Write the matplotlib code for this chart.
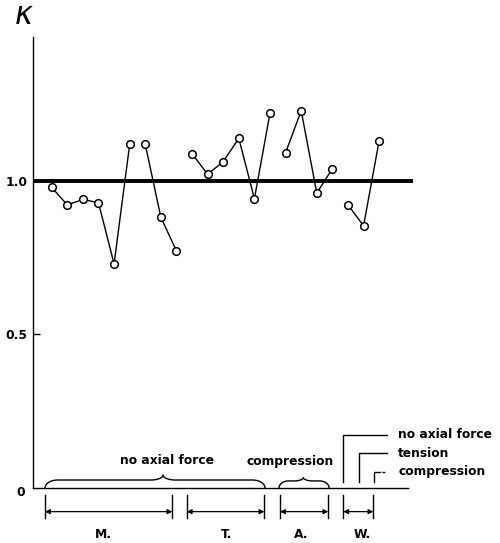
import numpy as np
import matplotlib
matplotlib.use("Agg")
import matplotlib.pyplot as plt

# =========================================================
# Data (kappa ratio per specimen)
# =========================================================

# each run is one connected polyline of specimens
runs_x = [
    [0, 1, 2, 3, 4, 5],
    [6, 7, 8],
    [9, 10, 11, 12, 13, 14],
    [15, 16, 17, 18],
    [19, 20, 21],
]
runs_k = [
    [0.979, 0.922, 0.940, 0.929, 0.730, 1.119],
    [1.119, 0.882, 0.772],
    [1.089, 1.022, 1.063, 1.139, 0.942, 1.221],
    [1.092, 1.229, 0.961, 1.040],
    [0.922, 0.854, 1.131],
]

group_names = ["M.", "T.", "A.", "W."]
group_left = [-0.43, 8.66, 14.64, 18.70]
group_right = [7.74, 13.64, 17.74, 20.63]
group_label_x = [3.3, 11.2, 16.0, 19.9]

y_ticks = [0.5, 1.0]
y_tick_labels = ["0.5", "1.0"]

legend_labels = ["no axial force", "tension", "compression"]

# =========================================================
# Figure
# =========================================================

W, H = 500, 543
fig = plt.figure(figsize=(W / 100, H / 100), dpi=100)
ax = fig.add_axes([33 / W, 55 / H, (420 - 33) / W, (506 - 55) / H])

x_min, x_max = -1.2, 23.62
ax.set_xlim(x_min, x_max)
ax.set_ylim(0, 1.469)

font = dict(family="DejaVu Sans", fontsize=8.8, color="black",
            fontweight="bold")

for xs, ks in zip(runs_x, runs_k):
    ax.plot(xs, ks, color="black", linewidth=1.0, marker="o",
            markersize=5.5, markerfacecolor="white",
            markeredgecolor="black", markeredgewidth=1.1, zorder=3)

# reference line at kappa = 1
ax.plot([x_min, 23.05], [1.0, 1.0], color="black", linewidth=2.8, zorder=2)

for s in ["top", "right"]:
    ax.spines[s].set_visible(False)
ax.spines["bottom"].set_bounds(x_min, 22.85)
ax.spines["left"].set_linewidth(1.0)
ax.spines["bottom"].set_linewidth(1.0)

ax.set_xticks([])
ax.set_yticks(y_ticks)
ax.set_yticklabels(y_tick_labels, **font)
ax.tick_params(axis="y", direction="in", length=5, width=1, pad=4)

# origin label sits a little below the baseline
ax.text(-2.0, -0.016, "0", ha="center", va="center", clip_on=False, **font)

fig.text(14 / W, 1 - 15 / H, r"$\kappa$", fontsize=22, va="center",
         ha="left")


# =========================================================
# Braces and brackets below the curves
# =========================================================

def brace(x0, x1, xm, h, hp, rx):
    t = np.linspace(0, np.pi / 2, 20)
    px, py = [], []
    # left end up to shoulder
    px += list(x0 + rx * (1 - np.cos(t)))
    py += list(h * np.sin(t))
    # up to peak
    px += list(xm - rx + rx * np.sin(t))
    py += list(h + (hp - h) * (1 - np.cos(t)))
    # down from peak
    px += list(xm + rx - rx * np.cos(t))
    py += list(h + (hp - h) * (1 - np.sin(t)))
    # right end down to baseline
    px += list(x1 - rx + rx * np.sin(t))
    py += list(h * np.cos(t))
    ax.plot(px, py, color="black", linewidth=1.0, clip_on=False)


brace(-0.43, 13.68, 7.14, 0.026, 0.042, 0.8)
brace(14.58, 17.79, 16.14, 0.023, 0.034, 0.6)
ax.text(7.4, 0.089, "no axial force", ha="center", va="center", **font)
ax.text(15.32, 0.086, "compression", ha="center", va="center", **font)

tick_top, tick_bot = -0.023, -0.098
arrow_y = -0.077
for name, xl, xr, lx in zip(group_names, group_left, group_right,
                            group_label_x):
    for xv in (xl, xr):
        ax.plot([xv, xv], [tick_top, tick_bot], color="black",
                linewidth=1.0, clip_on=False)
    ax.annotate("", xy=(xl, arrow_y), xytext=(xr, arrow_y),
                xycoords="data", textcoords="data",
                arrowprops=dict(arrowstyle="<|-|>", color="black",
                                linewidth=0.9, mutation_scale=7,
                                shrinkA=0, shrinkB=0),
                annotation_clip=False)
    ax.text(lx, -0.153, name, ha="center", va="center", **font)

# key at the right side
key_x = [18.70, 19.73, 20.69]
key_y = [0.173, 0.113, 0.053]
for i, (kx, ky, lab) in enumerate(zip(key_x, key_y, legend_labels)):
    if i < 2:
        ax.plot([kx, kx, 21.49], [0.02, ky, ky], color="black",
                linewidth=1.0, clip_on=False)
    else:
        ax.plot([kx, kx, 21.05], [0.02, ky, ky], color="black",
                linewidth=1.0, clip_on=False)
        ax.plot([21.2, 21.49], [ky, ky], color="black",
                linewidth=1.0, clip_on=False, linestyle=(0, (2, 2)))
    ax.text(22.21, ky, lab, ha="left", va="center", **font)

fig.savefig("out.png", dpi=100, facecolor="white")
